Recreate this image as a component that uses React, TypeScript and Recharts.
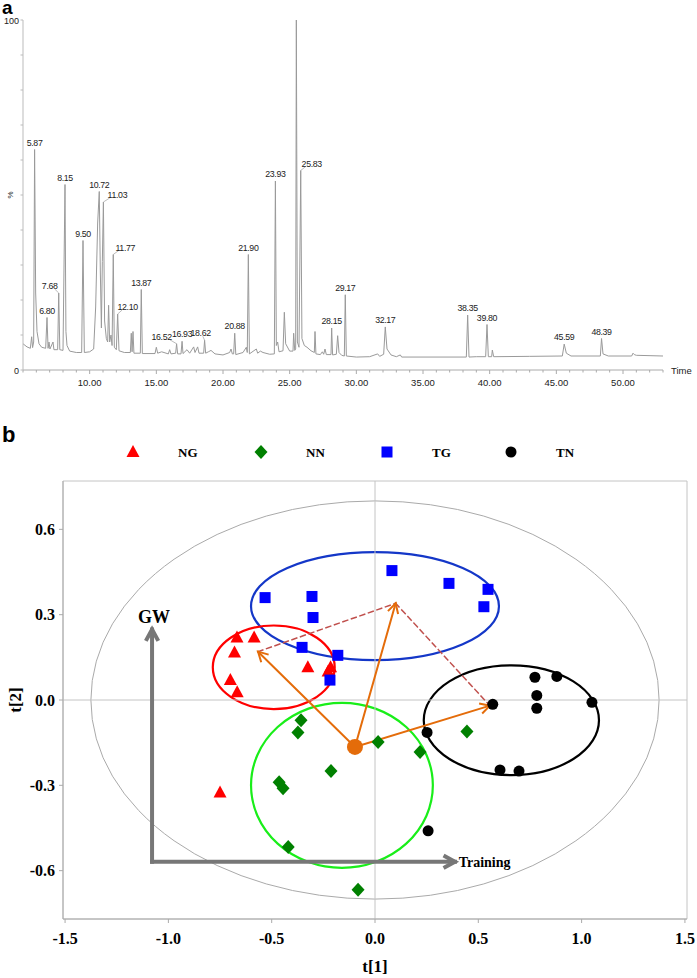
import React from 'react';
import {
  ComposedChart, Line, Scatter, XAxis, YAxis, Label,
  ScatterChart, ReferenceArea, ReferenceLine, ReferenceDot,
} from 'recharts';

const SANS = '"Liberation Sans", Arial, sans-serif';
const SERIF = '"Liberation Serif", "Times New Roman", serif';

// ---------- panel a: chromatogram (retention time, % intensity) ----------
const trace: [number, number][] = [
  [5.0, 7.5], [5.3, 6.6], [5.55, 6.2], [5.65, 9.5], [5.72, 6.4], [5.8, 8], [5.87, 63], [5.95, 22],
  [6.05, 11], [6.2, 7.5], [6.4, 6.5], [6.7, 6.2], [6.8, 15], [6.88, 6.2], [6.95, 8], [7.02, 6],
  [7.25, 8], [7.32, 5.8], [7.6, 5.8], [7.68, 22], [7.76, 5.8], [8.0, 5.6], [8.15, 53], [8.22, 11],
  [8.3, 7], [8.5, 5.4], [9.0, 5], [9.4, 5], [9.5, 37], [9.6, 5], [10.0, 5.2], [10.3, 6],
  [10.45, 18], [10.6, 42], [10.72, 51], [10.8, 28], [10.88, 12], [10.95, 31], [11.03, 48], [11.12, 14],
  [11.25, 9], [11.35, 8], [11.42, 18.5], [11.5, 8], [11.6, 10], [11.68, 7], [11.77, 33], [11.85, 6.5],
  [12.0, 5.8], [12.1, 16], [12.2, 5.5], [12.6, 5], [13.05, 5], [13.12, 10.5], [13.18, 5.2], [13.25, 11],
  [13.32, 4.8], [13.8, 4.8], [13.87, 23], [13.95, 4.7], [14.9, 4.7], [15.0, 6.5], [15.1, 4.8], [15.4, 5.2],
  [15.9, 4.6], [16.0, 5.8], [16.1, 4.6], [16.45, 4.8], [16.52, 7.5], [16.6, 4.6], [16.85, 4.6], [16.93, 8.2],
  [17.0, 4.7], [17.3, 5.8], [17.5, 4.8], [17.8, 6.6], [17.9, 5], [18.1, 6.6], [18.2, 4.8], [18.55, 4.8],
  [18.62, 8.5], [18.7, 4.8], [18.9, 5.2], [19.1, 5.6], [19.4, 4.6], [20.0, 4.3], [20.5, 5], [20.6, 6],
  [20.7, 4.6], [20.8, 4.6], [20.88, 10.5], [20.96, 4.4], [21.5, 5], [21.75, 6.5], [21.82, 5], [21.9, 33],
  [21.98, 4.6], [22.5, 6], [22.6, 4.8], [22.8, 5.4], [23.0, 5], [23.5, 4.5], [23.85, 4.6], [23.93, 54],
  [24.0, 7], [24.1, 8], [24.2, 5.2], [24.5, 5.5], [24.6, 16.5], [24.7, 7.5], [25.0, 5.4], [25.25, 5.4],
  [25.3, 10.5], [25.38, 5.6], [25.45, 6], [25.5, 100], [25.58, 8], [25.7, 6.5], [25.83, 57], [25.92, 9],
  [26.1, 7], [26.3, 6.5], [26.6, 5.5], [26.85, 5], [26.9, 11], [26.97, 4.6], [27.3, 4.4], [27.45, 5.2],
  [27.55, 4.5], [27.65, 6], [27.75, 4.4], [28.1, 4.4], [28.15, 12], [28.22, 4.3], [28.5, 4.5], [28.6, 9.8],
  [28.7, 5], [28.9, 4.2], [29.1, 4], [29.17, 21.5], [29.25, 4], [30.0, 3.7], [31.0, 3.8], [31.6, 4.6],
  [31.75, 3.9], [32.05, 4.5], [32.17, 12.3], [32.3, 6], [32.6, 4.3], [33.0, 3.8], [33.3, 4.3], [33.4, 3.7],
  [35.0, 3.7], [38.25, 3.7], [38.35, 15.7], [38.45, 3.7], [39.0, 3.8], [39.7, 3.8], [39.8, 13], [39.9, 3.8],
  [40.15, 3.8], [40.2, 5.7], [40.3, 3.8], [43.0, 3.9], [45.45, 4], [45.59, 7.4], [45.75, 4.8], [46.1, 4],
  [48.3, 4], [48.39, 9], [48.5, 4.6], [48.9, 4], [50.65, 4], [50.75, 4.8], [50.85, 4.4], [51.0, 4.2],
  [53.0, 4],
];

const peakLabels = [
  5.87, 6.8, 7.68, 8.15, 9.5, 10.72, 11.03, 11.77, 12.1, 13.87, 16.52, 16.93, 18.62,
  20.88, 21.9, 23.93, 25.5, 25.83, 28.15, 29.17, 32.17, 38.35, 39.8, 45.59, 48.39,
];

const timeMajorTicks = [10, 15, 20, 25, 30, 35, 40, 45, 50];
const timeTicks = Array.from({ length: 49 }, (_, i) => 5 + i);
const pctTicks = [0, 10, 20, 30, 40, 50, 60, 70, 80, 90, 100];

// horizontal nudges (px) of labels that sit beside their peak
const labelShift: Record<string, number> = {
  '7.68': -9, '11.03': 14, '11.77': 12, '12.10': 10, '16.52': -15, '18.62': -4, '25.83': 11,
};

const chromData = trace.map(([t, v]) => ({ t, v }));
const peakData = trace
  .filter(([t]) => peakLabels.includes(t))
  .map(([t, v]) => ({ t, v, label: t.toFixed(2) }));

// ---------- panel b: score plot ----------
const ngPoints: [number, number][] = [
  [-0.668, 0.22], [-0.585, 0.22], [-0.68, 0.167], [-0.325, 0.115], [-0.227, 0.1],
  [-0.215, 0.115], [-0.7, 0.07], [-0.667, 0.027], [-0.75, -0.325],
];
const nnPoints: [number, number][] = [
  [-0.358, -0.071], [-0.373, -0.114], [-0.213, -0.25], [-0.464, -0.289], [-0.445, -0.31],
  [-0.42, -0.517], [0.015, -0.148], [0.218, -0.183], [0.445, -0.111], [-0.082, -0.667],
];
const tgPoints: [number, number][] = [
  [-0.532, 0.36], [-0.305, 0.364], [-0.3, 0.29], [-0.353, 0.185], [-0.18, 0.157],
  [-0.218, 0.07], [0.082, 0.455], [0.358, 0.41], [0.547, 0.389], [0.527, 0.328],
];
const tnPoints: [number, number][] = [
  [0.57, -0.015], [0.774, 0.08], [0.88, 0.083], [0.783, 0.016], [0.783, -0.029],
  [1.05, -0.008], [0.252, -0.114], [0.605, -0.246], [0.697, -0.25], [0.257, -0.46],
];

const t1Ticks = [-1.5, -1.0, -0.5, 0, 0.5, 1.0, 1.5];
const t2Ticks = [-0.6, -0.3, 0, 0.3, 0.6];

// [cx, cy, rx, ry] in score units
const hotelling = [0, 0, 1.375, 0.7];
const ngEllipse = [-0.49, 0.115, 0.295, 0.147];
const nnEllipse = [-0.16, -0.3, 0.44, 0.29];
const tgEllipse = [0.0, 0.33, 0.6, 0.19];
const tnEllipse = [0.66, -0.071, 0.424, 0.193];

const origin = [-0.097, -0.165];
const ngTip = [-0.566, 0.17];
const tgTip = [0.1, 0.34];
const tnTip = [0.556, -0.02];
const axisCorner = [-1.079, -0.569];
const gwEnd = [-1.079, 0.248];
const trainingEnd = [0.387, -0.569];

const toXY = (pts: [number, number][]) => pts.map(([x, y]) => ({ x, y }));

// ---------- shapes ----------
const TimeTick = ({ x, y, payload }: any) => {
  const major = timeMajorTicks.includes(payload.value);
  return (
    <g>
      <line x1={x} x2={x} y1={y} y2={y + (major ? 4 : 2.5)} stroke="#aaa" />
      {major && (
        <text x={x} y={y + 16} textAnchor="middle" fontSize={9.5} fontFamily={SANS} fill="#222">
          {payload.value.toFixed(2)}
        </text>
      )}
    </g>
  );
};

const PctTick = ({ x, y, payload }: any) => {
  const v = payload.value;
  return (
    <g>
      <line x1={x} x2={x - 2.5} y1={y} y2={y} stroke="#bbb" />
      {(v === 0 || v === 100) && (
        <text x={x - 4} y={y + 3.5} textAnchor="end" fontSize={9} fontFamily={SANS} fill="#222">{v}</text>
      )}
    </g>
  );
};

const PeakLabel = (p: any) => {
  const { cx, cy, payload } = p;
  const dx = labelShift[payload.label] ?? 0;
  return (
    <g>
      {dx !== 0 && <line x1={cx} y1={cy} x2={cx + dx * 0.45} y2={cy - 4} stroke="#aaa" strokeWidth={0.8} />}
      <text x={cx + dx} y={cy - 4} textAnchor="middle" fontSize={8.8} letterSpacing={-0.35} fontFamily={SANS} fill="#222">
        {payload.label}
      </text>
    </g>
  );
};

const ellipseShape = (color: string, width: number) => (p: any) => (
  <ellipse
    cx={p.x + p.width / 2}
    cy={p.y + p.height / 2}
    rx={Math.abs(p.width / 2)}
    ry={Math.abs(p.height / 2)}
    fill="none"
    stroke={color}
    strokeWidth={width}
  />
);

const arrowShape = (color: string, width: number, head: number, dash?: string) => (p: any) => {
  const { x1, y1, x2, y2 } = p;
  const a = Math.atan2(y2 - y1, x2 - x1);
  const h1 = `${x2 - head * Math.cos(a - 0.5)},${y2 - head * Math.sin(a - 0.5)}`;
  const h2 = `${x2 - head * Math.cos(a + 0.5)},${y2 - head * Math.sin(a + 0.5)}`;
  return (
    <g>
      <line x1={x1} y1={y1} x2={x2} y2={y2} stroke={color} strokeWidth={width} strokeLinecap="square" strokeDasharray={dash} />
      {head > 0 && <polyline points={`${h1} ${x2},${y2} ${h2}`} fill="none" stroke={color} strokeWidth={width} />}
    </g>
  );
};

const Triangle = ({ cx, cy }: any) => (
  <polygon points={`${cx},${cy - 7} ${cx - 6.5},${cy + 5} ${cx + 6.5},${cy + 5}`} fill="#ff0000" />
);
const Diamond = ({ cx, cy }: any) => (
  <polygon points={`${cx},${cy - 7} ${cx + 6.5},${cy} ${cx},${cy + 7} ${cx - 6.5},${cy}`} fill="#008000" />
);
const Square = ({ cx, cy }: any) => <rect x={cx - 5.5} y={cy - 5.5} width={11} height={11} fill="#0000ff" />;
const Dot = ({ cx, cy }: any) => <circle cx={cx} cy={cy} r={5.5} fill="#000" />;

const textMark = (text: string, size: number, anchor: string) => (p: any) => {
  const vb = p.viewBox;
  return (
    <text x={vb.x} y={vb.y + size * 0.35} textAnchor={anchor} fontSize={size} fontWeight={700} fontFamily={SERIF} fill="#000">
      {text}
    </text>
  );
};

const seg = (a: number[], b: number[]) => [{ x: a[0], y: a[1] }, { x: b[0], y: b[1] }];
const area = (e: number[]) => ({ x1: e[0] - e[2], x2: e[0] + e[2], y1: e[1] - e[3], y2: e[1] + e[3] });

const ORANGE = '#e46c0a';
const scoreTick = { fontSize: 16, fontFamily: SERIF, fontWeight: 700, fill: '#000' };

const legendItems = [
  { name: 'NG', icon: 'tri', x: 133 },
  { name: 'NN', icon: 'dia', x: 261 },
  { name: 'TG', icon: 'sq', x: 387 },
  { name: 'TN', icon: 'dot', x: 511 },
];

const App = () => (
  <div style={{ position: 'absolute', left: 0, top: 0, width: 697, height: 978, background: '#fff', overflow: 'hidden' }}>
    <div style={{ position: 'absolute', left: 0, top: 0 }}>
      <ComposedChart width={697} height={395} data={chromData} margin={{ top: 20, right: 34, bottom: 0, left: 0 }}>
        <XAxis
          type="number" dataKey="t" domain={[5, 53]} ticks={timeTicks} interval={0} allowDataOverflow
          height={25} tickSize={0} tickMargin={0} tick={<TimeTick />} axisLine={{ stroke: '#aaa' }} tickLine={false}
        >
          <Label content={(p: any) => (
            <text x={p.viewBox.x + p.viewBox.width + 8} y={p.viewBox.y + 4} fontSize={9.5} fontFamily={SANS} fill="#222">Time</text>
          )} />
        </XAxis>
        <YAxis
          type="number" dataKey="v" domain={[0, 100]} ticks={pctTicks} interval={0} allowDataOverflow
          width={23} tickSize={0} tickMargin={0} tick={<PctTick />} axisLine={{ stroke: '#bbb' }} tickLine={false}
        >
          <Label content={() => (
            <text x={13} y={195} transform="rotate(-90 13 195)" textAnchor="middle" fontSize={8} fontFamily={SANS} fill="#222">%</text>
          )} />
        </YAxis>
        <Line type="linear" dataKey="v" stroke="#9a9a9a" strokeWidth={1} dot={false} isAnimationActive={false} />
        <Scatter data={peakData} dataKey="v" shape={PeakLabel} isAnimationActive={false} />
      </ComposedChart>
    </div>

    <svg style={{ position: 'absolute', left: 0, top: 0 }} width={40} height={18}>
      <text x={2} y={14} fontSize={19} fontWeight={700} fontFamily={SANS} fill="#000">a</text>
    </svg>

    <svg style={{ position: 'absolute', left: 0, top: 418 }} width={697} height={50}>
      <text x={2} y={24} fontSize={22} fontWeight={700} fontFamily={SANS} fill="#000">b</text>
      {legendItems.map((it) => {
        const cy = 34;
        const cx = it.x;
        return (
          <g key={it.name}>
            {it.icon === 'tri' && <Triangle cx={cx} cy={cy} />}
            {it.icon === 'dia' && <Diamond cx={cx} cy={cy} />}
            {it.icon === 'sq' && <Square cx={cx} cy={cy} />}
            {it.icon === 'dot' && <Dot cx={cx} cy={cy} />}
            <text x={cx + 45} y={cy + 5} fontSize={13} fontWeight={700} fontFamily={SERIF} fill="#000">{it.name}</text>
          </g>
        );
      })}
    </svg>

    <div style={{ position: 'absolute', left: 0, top: 400 }}>
      <ScatterChart width={697} height={578} margin={{ top: 81, right: 10, bottom: 0, left: 0 }}>
        <XAxis
          type="number" dataKey="x" domain={[-1.51, 1.51]} ticks={t1Ticks} interval={0} allowDataOverflow
          height={59} tickSize={4} tickMargin={10} tick={scoreTick} tickFormatter={(v: number) => v.toFixed(1)}
          axisLine={{ stroke: '#aaa' }} tickLine={{ stroke: '#aaa' }}
        >
          <Label content={(p: any) => (
            <text x={p.viewBox.x + p.viewBox.width / 2} y={p.viewBox.y + 53} textAnchor="middle" fontSize={17} fontWeight={700} fontFamily={SERIF} fill="#000">t[1]</text>
          )} />
        </XAxis>
        <YAxis
          type="number" dataKey="y" domain={[-0.77, 0.77]} ticks={t2Ticks} interval={0} allowDataOverflow
          width={63} tickSize={4} tickMargin={4} tick={scoreTick} tickFormatter={(v: number) => v.toFixed(1)}
          axisLine={{ stroke: '#aaa' }} tickLine={{ stroke: '#aaa' }}
        >
          <Label content={(p: any) => {
            const cy = p.viewBox.y + p.viewBox.height / 2;
            return (
              <text x={21} y={cy} transform={`rotate(-90 21 ${cy})`} textAnchor="middle" fontSize={17} fontWeight={700} fontFamily={SERIF} fill="#000">t[2]</text>
            );
          }} />
        </YAxis>

        <ReferenceArea x1={-1.51} x2={1.51} y1={-0.77} y2={0.77} fill="none" stroke="#c4c4c4" ifOverflow="visible" />
        <ReferenceLine x={0} stroke="#c4c4c4" />
        <ReferenceLine y={0} stroke="#c4c4c4" />

        <ReferenceArea {...area(hotelling)} ifOverflow="visible" shape={ellipseShape('#aaa', 1)} />
        <ReferenceArea {...area(tgEllipse)} ifOverflow="visible" shape={ellipseShape('#1437c8', 2.2)} />
        <ReferenceArea {...area(ngEllipse)} ifOverflow="visible" shape={ellipseShape('#ff0000', 2.2)} />
        <ReferenceArea {...area(nnEllipse)} ifOverflow="visible" shape={ellipseShape('#19ee19', 2.2)} />
        <ReferenceArea {...area(tnEllipse)} ifOverflow="visible" shape={ellipseShape('#000', 2.2)} />

        <ReferenceLine segment={seg(axisCorner, gwEnd)} ifOverflow="visible" shape={arrowShape('#777', 4, 13)} />
        <ReferenceLine segment={seg(axisCorner, trainingEnd)} ifOverflow="visible" shape={arrowShape('#777', 4, 13)} />
        <ReferenceDot x={-1.07} y={0.294} r={0} fill="none" stroke="none" ifOverflow="visible" label={{ content: textMark('GW', 18, 'middle') }} />
        <ReferenceDot x={0.405} y={-0.569} r={0} fill="none" stroke="none" ifOverflow="visible" label={{ content: textMark('Training', 14, 'start') }} />

        <Scatter name="NG" data={toXY(ngPoints)} shape={Triangle} isAnimationActive={false} />
        <Scatter name="NN" data={toXY(nnPoints)} shape={Diamond} isAnimationActive={false} />
        <Scatter name="TG" data={toXY(tgPoints)} shape={Square} isAnimationActive={false} />
        <Scatter name="TN" data={toXY(tnPoints)} shape={Dot} isAnimationActive={false} />

        <ReferenceLine segment={seg(ngTip, tgTip)} ifOverflow="visible" shape={arrowShape('#c0504d', 1.5, 0, '5 4')} />
        <ReferenceLine segment={seg(tgTip, tnTip)} ifOverflow="visible" shape={arrowShape('#c0504d', 1.5, 0, '5 4')} />
        <ReferenceLine segment={seg(origin, ngTip)} ifOverflow="visible" shape={arrowShape(ORANGE, 2, 11)} />
        <ReferenceLine segment={seg(origin, tgTip)} ifOverflow="visible" shape={arrowShape(ORANGE, 2, 11)} />
        <ReferenceLine segment={seg(origin, tnTip)} ifOverflow="visible" shape={arrowShape(ORANGE, 2, 11)} />
        <ReferenceDot x={origin[0]} y={origin[1]} r={8} fill={ORANGE} stroke="none" ifOverflow="visible" />
      </ScatterChart>
    </div>
  </div>
);

export default App;
